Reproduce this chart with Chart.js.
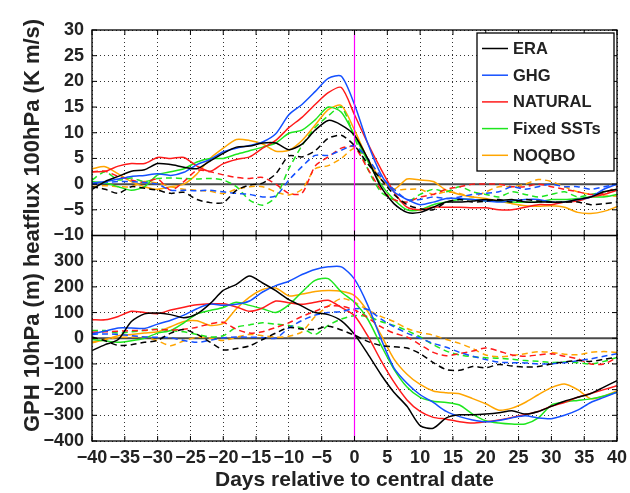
<!DOCTYPE html>
<html>
<head>
<meta charset="utf-8">
<script src="https://cdn.jsdelivr.net/npm/chart.js@4.4.1/dist/chart.umd.min.js"></script>
<style>
  html, body { margin: 0; padding: 0; background: #fff; }
</style>
</head>
<body>
<canvas id="chart" width="630" height="493"></canvas>
<script>
// days relative to central date (every 2 days)
const days = [-40, -38, -36, -34, -32, -30, -28, -26, -24, -22, -20, -18, -16, -14, -12, -10, -8, -6, -4, -2,
  0, 2, 4, 6, 8, 10, 12, 14, 16, 18, 20, 22, 24, 26, 28, 30, 32, 34, 36, 38, 40];

const names = ['ERA', 'GHG', 'NATURAL', 'Fixed SSTs', 'NOQBO'];
const colors = ['#000000', '#1450ff', '#ff1a1a', '#1ee61e', '#ffa500'];

// heatflux 100hPa (K m/s), solid lines
const hfEra = [-1, 0.5, 1.5, 2.5, 2.8, 4, 3.8, 3.3, 3, 4.5, 6, 7.2, 7.4, 8, 8, 6.7, 7.8, 10.5, 12.4, 11.5,
  9.5, 5, -0.5, -3.8, -5.5, -5.5, -4.5, -3.5, -3.5, -3.3, -3, -3.2, -3, -3.5, -3.5, -3.5, -3.5, -3, -2.5, -1.5, -1];
const hfGhg = [0.2, 0.5, 1, 1.5, 1.7, 2, 1.7, 2.3, 3.8, 4.8, 6.3, 7, 7.5, 8.2, 9.8, 13.5, 15.5, 18, 20.6, 21,
  15.5, 8, 2, -1.5, -3, -4, -3.5, -2.8, -2.8, -3, -3.3, -3.5, -3.2, -3, -3, -3.5, -3.5, -3, -2.5, -1, 0];
const hfNat = [2.4, 2.5, 3.5, 4, 4, 5.2, 5, 5.2, 3.5, 2.5, 4, 4.8, 5.3, 7, 8.5, 11, 13, 15.5, 17.8, 18.8,
  13.5, 8, 3, -1.5, -4.5, -5, -4.5, -4.5, -4.5, -4.6, -4.6, -5, -5, -4.5, -4, -4, -3.5, -3.3, -2.5, -2, -1.2];
const hfSst = [0.5, 0.2, -0.5, -1.2, -0.5, 1.8, 2.4, 3, 4.3, 5, 5, 5.8, 6.5, 7.2, 8, 9.9, 10.5, 12.5, 15, 14,
  9.5, 4.5, 0, -3, -5, -5, -4, -3.5, -3, -3, -3.3, -3.3, -3.5, -3.5, -3.5, -3, -3, -2.8, -2.5, -2.5, -2];
const hfNoqbo = [3, 3.4, 2, 0.5, -0.5, -1, -0.5, 0, 2, 5, 7, 8.7, 8.5, 7.8, 6.4, 6.6, 8.5, 11.5, 14.5, 15.3,
  10.5, 5, 1, -1, 1, 0.8, 0.5, -1.2, -2, -2.5, -2.8, -3.3, -3.8, -4.2, -4.3, -4.2, -4.5, -5.5, -5.7, -5.3, -4.4];

// heatflux 100hPa, dashed lines
const hfEraD = [-0.5, -1, -1.8, -0.5, -0.8, -1.2, -1.8, -1.6, -3, -3.6, -3.6, -1.2, -0.2, 0.2, 2, 5.5, 5.3, 6.5, 8.9, 9.5,
  7.5, 4, 1, -2, -4, -4.8, -5, -3.5, -3, -3.5, -3.3, -3, -3.5, -3, -3.3, -3.5, -3.5, -3.5, -4, -3.8, -3.5];
const hfGhgD = [0, 0.3, 0.5, 0.5, 0.3, 0, -1.2, -1.2, -1.3, -1.2, -1.5, -1.8, -2, -2.5, -2.3, 0.8, 3.4, 5.6, 5.6, 6.6,
  7.5, 5, 1.5, -1, -3, -3, -2.5, -2.8, -2.5, -2, -1.8, -1.5, -0.5, -1, -0.5, 0, -0.5, -0.5, -1, -0.5, 0];
const hfNatD = [2.4, 2.5, 1.5, 0.8, 0.3, 1, -1.2, 0.5, 2.7, 2.4, 1.8, 1.3, 1.1, 1.3, 0, -1.8, -1.8, 3.5, 5.3, 7,
  7.2, 3, -1, -3, -3.5, -2.5, -2, -1, -0.5, 0, 0, 0, -0.5, -0.5, 0, -0.5, -1, -1.5, -2, -1.8, -0.5];
const hfSstD = [0.8, 2.4, 0.8, 1.2, 0.5, 1.1, 1.2, 1.1, 1, 1.1, 0.8, -0.5, -3.1, -4.1, -2.5, 3, 7.5, 11, 13.3, 15,
  9, 3, -1.5, -3, -3.5, -2, -1, -1.5, -0.5, -1.5, -2, -2.5, -1.5, -2, -2.5, -2, -1.5, -2.5, -2, -1.5, -1];
const hfNoqboD = [-0.5, -0.3, -0.5, -0.5, 0.5, 0.2, -0.5, -1, -1.2, -1.4, -1.8, -1, -0.5, -0.5, -1.5, -2.1, -1, 3, 3.6, 5,
  7, 5, 1, -1, -1, -1, -2, -1.5, -1.8, -2.5, -1.5, -0.5, -0.5, 0, 0.9, 0.5, -0.5, -1.5, -2, -2.3, -2.3];

// GPH 10hPa (m), solid lines
const gphEra = [-48, -25, -5, 65, 95, 98, 92, 80, 95, 135, 186, 210, 242, 215, 185, 150, 125, 100, 92, 68,
  15, -60, -140, -210, -265, -340, -350, -310, -298, -298, -295, -290, -282, -295, -285, -265, -245, -230, -215, -190, -165];
const gphGhg = [17, 28, 40, 40, 38, 55, 70, 90, 115, 133, 128, 132, 145, 180, 205, 222, 248, 268, 278, 278,
  230, 130, 0, -115, -175, -220, -250, -285, -305, -318, -325, -320, -310, -302, -310, -313, -300, -280, -250, -230, -210];
const gphNat = [72, 72, 85, 105, 100, 96, 110, 121, 130, 134, 134, 122, 105, 118, 145, 138, 132, 140, 148, 120,
  88, 10, -85, -170, -240, -285, -308, -315, -325, -330, -325, -318, -308, -297, -285, -265, -250, -230, -215, -200, -185];
const gphSst = [-5, -10, -16, -10, 0, 20, 30, 60, 95, 108, 120, 140, 128, 115, 100, 130, 180, 225, 232, 180,
  140, 75, -25, -120, -190, -230, -245, -250, -260, -295, -321, -330, -334, -334, -310, -260, -248, -242, -236, -225, -210];
const gphNoqbo = [-18, -5, 10, 15, 20, 25, 45, 65, 68, 50, 58, 115, 160, 190, 196, 165, 172, 182, 186, 183,
  166, 105, 15, -80, -140, -180, -205, -212, -216, -235, -255, -280, -272, -250, -220, -192, -178, -200, -235, -225, -205];

// GPH 10hPa, dashed lines
const gphEraD = [5, -10, -28, -25, -16, -8, 20, 34, 15, -15, -45, -40, -30, -5, 20, 42, 36, 34, 47, 32,
  12, -12, -28, -33, -38, -60, -95, -122, -125, -110, -115, -102, -108, -112, -110, -100, -92, -87, -90, -82, -74];
const gphGhgD = [15, 17, 15, 10, 5, 4, 2, -9, -16, -8, 2, 5, 4, 3, 0, 40, 69, 90, 100, 104,
  115, 112, 75, 45, 20, 0, -20, -35, -55, -70, -83, -93, -95, -96, -100, -100, -95, -88, -80, -70, -60];
const gphNatD = [23, 25, 27, 30, 31, 34, 32, 35, 43, 56, 62, 35, 20, 25, 42, 60, 85, 105, 125, 125,
  110, 80, 45, 20, 5, -25, -55, -68, -60, -50, -38, -50, -65, -70, -65, -60, -70, -80, -100, -100, -75];
const gphSstD = [30, 30, 20, 25, 30, 36, 30, 25, 15, 5, 10, 43, 52, 60, 55, 50, 40, 15, 50, 75,
  88, 85, 65, 50, 30, 5, -25, -50, -65, -72, -76, -78, -82, -87, -90, -94, -92, -95, -100, -90, -75];
const gphNoqboD = [-16, -5, 3, 4, 5, -10, -29, -10, 4, 0, -9, 4, 15, 10, 4, 8, 25, 85, 125, 155,
  140, 110, 85, 65, 38, 22, 12, -5, -20, -40, -65, -72, -68, -60, -52, -55, -62, -64, -55, -52, -55];

const hfSolid = [hfEra, hfGhg, hfNat, hfSst, hfNoqbo];
const hfDashed = [hfEraD, hfGhgD, hfNatD, hfSstD, hfNoqboD];
const gphSolid = [gphEra, gphGhg, gphNat, gphSst, gphNoqbo];
const gphDashed = [gphEraD, gphGhgD, gphNatD, gphSstD, gphNoqboD];

const FONT = '"Liberation Sans", Arial, Helvetica, sans-serif';
Chart.defaults.font.family = FONT;
Chart.defaults.color = '#222';

const minus = v => String(v).replace('-', '\u2212');

function makeSet(label, vals, color, dashed, axis) {
  return {
    label: label,
    data: days.map((d, i) => ({ x: d, y: vals[i] })),
    borderColor: color,
    borderWidth: 1.5,
    borderDash: dashed ? [6, 4] : [],
    pointRadius: 0,
    tension: 0.25,
    fill: false,
    yAxisID: axis
  };
}

const datasets = [];
names.forEach((n, i) => {
  datasets.push(makeSet(n, hfSolid[i], colors[i], false, 'yt'));
  datasets.push(makeSet(n + ' dashed', hfDashed[i], colors[i], true, 'yt'));
  datasets.push(makeSet(n + ' GPH', gphSolid[i], colors[i], false, 'yb'));
  datasets.push(makeSet(n + ' GPH dashed', gphDashed[i], colors[i], true, 'yb'));
});

function line(ctx, x1, y1, x2, y2) {
  ctx.beginPath();
  ctx.moveTo(x1, y1);
  ctx.lineTo(x2, y2);
  ctx.stroke();
}

const decor = {
  id: 'decor',
  beforeDatasetsDraw(chart) {
    const { ctx, chartArea: a, scales } = chart;
    ctx.save();
    ctx.strokeStyle = '#4a4a4a';
    ctx.lineWidth = 2;
    ['yt', 'yb'].forEach(id => {
      const y = scales[id].getPixelForValue(0);
      line(ctx, a.left, y, a.right, y);
    });
    ctx.restore();
  },
  afterDatasetsDraw(chart) {
    const { ctx, chartArea: a, scales } = chart;
    ctx.save();
    // central date
    const x0 = scales.x.getPixelForValue(0);
    ctx.strokeStyle = '#ff00ff';
    ctx.lineWidth = 1.2;
    line(ctx, x0, a.top, x0, a.bottom);

    // panel boxes and inside ticks
    ctx.strokeStyle = '#000';
    ctx.lineWidth = 1.3;
    ['yt', 'yb'].forEach(id => {
      const s = scales[id];
      ctx.strokeRect(a.left, s.top, a.right - a.left, s.bottom - s.top);
      ctx.lineWidth = 1;
      s.ticks.forEach(t => {
        const y = s.getPixelForValue(t.value);
        line(ctx, a.left, y, a.left + 5, y);
        line(ctx, a.right - 5, y, a.right, y);
      });
      scales.x.ticks.forEach(t => {
        const x = scales.x.getPixelForValue(t.value);
        line(ctx, x, s.top, x, s.top + 5);
        line(ctx, x, s.bottom - 5, x, s.bottom);
      });
      ctx.lineWidth = 1.3;
    });

    // legend
    const lw = 137, lh = 138;
    const lx = a.right - 3 - lw, ly = a.top + 3;
    ctx.fillStyle = '#fff';
    ctx.fillRect(lx, ly, lw, lh);
    ctx.strokeStyle = '#000';
    ctx.lineWidth = 1.3;
    ctx.strokeRect(lx, ly, lw, lh);
    ctx.font = 'bold 16.5px ' + FONT;
    ctx.textBaseline = 'middle';
    ctx.textAlign = 'left';
    names.forEach((n, i) => {
      const y = ly + 15.5 + i * 26.7;
      ctx.strokeStyle = colors[i];
      ctx.lineWidth = 1.5;
      line(ctx, lx + 5, y, lx + 31, y);
      ctx.fillStyle = '#222';
      ctx.fillText(n, lx + 36, y + 1);
    });

    // shared y title
    ctx.translate(33, (a.top + a.bottom) / 2 - 10);
    ctx.rotate(-Math.PI / 2);
    ctx.textAlign = 'center';
    ctx.font = 'bold 22px ' + FONT;
    ctx.fillStyle = '#222';
    ctx.fillText('GPH 10hPa (m) heatflux 100hPa (K m/s)', 0, 0);
    ctx.restore();
  }
};

const gridOpts = { color: 'rgba(0,0,0,0.8)', lineWidth: 1, drawTicks: false };
const borderOpts = { display: false, dash: [1, 3] };
const tickFont = { size: 18, weight: 'bold' };

new Chart(document.getElementById('chart'), {
  type: 'line',
  data: { datasets: datasets },
  options: {
    responsive: false,
    animation: false,
    devicePixelRatio: 1,
    layout: { padding: { left: 0, right: 13, top: 30, bottom: 0 } },
    plugins: {
      legend: { display: false },
      tooltip: { enabled: false }
    },
    scales: {
      x: {
        type: 'linear',
        min: -40,
        max: 40,
        grid: gridOpts,
        border: borderOpts,
        ticks: {
          stepSize: 5,
          autoSkip: false,
          maxRotation: 0,
          padding: 6,
          font: tickFont,
          callback: v => minus(v)
        },
        title: {
          display: true,
          text: 'Days relative to central date',
          font: { size: 21, weight: 'bold' },
          padding: { top: 0, bottom: 0 }
        },
        afterFit: s => {
          s.height = 52;
          s.paddingLeft = 0;
          s.paddingRight = 0;
        }
      },
      yb: {
        type: 'linear',
        position: 'left',
        stack: 'panels',
        stackWeight: 1,
        min: -400,
        max: 400,
        grid: gridOpts,
        border: borderOpts,
        ticks: {
          stepSize: 100,
          autoSkip: false,
          padding: 8,
          font: tickFont,
          callback: v => (v === 400 ? '' : minus(v))
        },
        afterFit: s => { s.width = 92; }
      },
      yt: {
        type: 'linear',
        position: 'left',
        stack: 'panels',
        stackWeight: 1,
        min: -10,
        max: 30,
        grid: gridOpts,
        border: borderOpts,
        ticks: {
          stepSize: 5,
          autoSkip: false,
          padding: 8,
          font: tickFont,
          callback: v => minus(v)
        },
        afterFit: s => { s.width = 92; }
      }
    }
  },
  plugins: [decor]
});
</script>
</body>
</html>
